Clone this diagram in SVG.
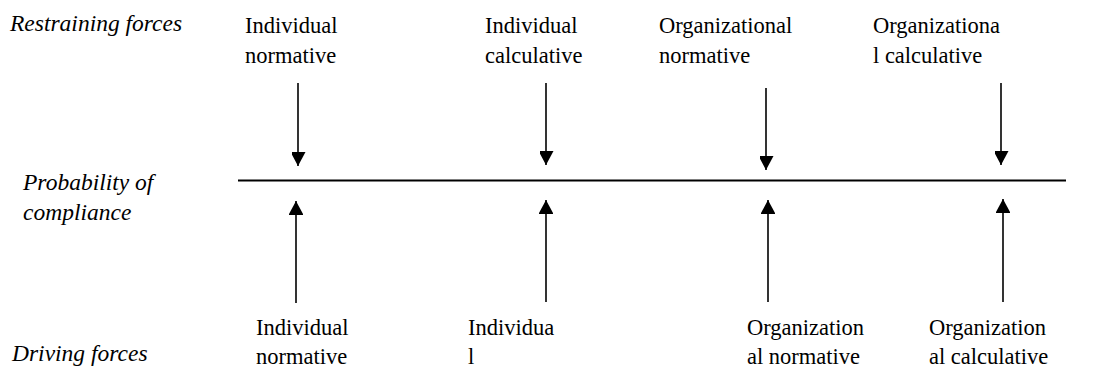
<svg xmlns="http://www.w3.org/2000/svg" width="1104" height="376" viewBox="0 0 1104 376">
  <style>
    .cap { font-family: 'Liberation Serif', 'Times New Roman', 'DejaVu Serif', serif; font-size: 23.5px; font-style: italic; fill: #000; }
    .lbl { font-family: 'Liberation Serif', 'Times New Roman', 'DejaVu Serif', serif; font-size: 22.5px; fill: #000; }
    .shaft { stroke: #000; stroke-width: 1.6; fill: none; }
    .axis { stroke: #000; stroke-width: 2.2; fill: none; }
  </style>
  <defs>
    <marker id="head" viewBox="0 0 15 14" refX="14" refY="7.5" markerWidth="15" markerHeight="14" markerUnits="userSpaceOnUse" orient="auto">
      <path d="M0,0 L14,7.5 L0,15 Z" fill="#000"/>
    </marker>
  </defs>

  <rect width="1104" height="376" fill="#fff"/>

  <!-- row captions -->
  <g id="caption-restraining">
    <text class="cap" x="10" y="31">Restraining forces</text>
  </g>
  <g id="caption-probability">
    <text class="cap" x="23" y="190">Probability of</text>
    <text class="cap" x="23" y="220">compliance</text>
  </g>
  <g id="caption-driving">
    <text class="cap" x="12" y="361">Driving forces</text>
  </g>

  <!-- restraining forces (top) -->
  <g id="r-ind-norm">
    <text class="lbl" x="245" y="33">Individual</text>
    <text class="lbl" x="245" y="63">normative</text>
  </g>
  <g id="r-ind-calc">
    <text class="lbl" x="485" y="33">Individual</text>
    <text class="lbl" x="485" y="63">calculative</text>
  </g>
  <g id="r-org-norm">
    <text class="lbl" x="659" y="33">Organizational</text>
    <text class="lbl" x="659" y="63">normative</text>
  </g>
  <g id="r-org-calc">
    <text class="lbl" x="873" y="33">Organizationa</text>
    <text class="lbl" x="873" y="63">l calculative</text>
  </g>

  <!-- driving forces (bottom) -->
  <g id="d-ind-norm">
    <text class="lbl" x="256" y="335">Individual</text>
    <text class="lbl" x="256" y="364">normative</text>
  </g>
  <g id="d-ind-calc">
    <text class="lbl" x="468" y="335">Individua</text>
    <text class="lbl" x="468" y="364">l</text>
  </g>
  <g id="d-org-norm">
    <text class="lbl" x="747" y="335">Organization</text>
    <text class="lbl" x="747" y="364">al normative</text>
  </g>
  <g id="d-org-calc">
    <text class="lbl" x="929" y="335">Organization</text>
    <text class="lbl" x="929" y="364">al calculative</text>
  </g>

  <!-- compliance axis and force arrows -->
  <g id="connectors">
    <line class="axis" x1="238" y1="180.5" x2="1066" y2="180.5"/>

    <line class="shaft" x1="298" y1="83" x2="298" y2="166" marker-end="url(#head)"/>
    <line class="shaft" x1="546" y1="83" x2="546" y2="165" marker-end="url(#head)"/>
    <line class="shaft" x1="766" y1="88" x2="766" y2="170" marker-end="url(#head)"/>
    <line class="shaft" x1="1001" y1="83" x2="1001" y2="165" marker-end="url(#head)"/>

    <line class="shaft" x1="296" y1="303" x2="296" y2="201" marker-end="url(#head)"/>
    <line class="shaft" x1="546" y1="302" x2="546" y2="200" marker-end="url(#head)"/>
    <line class="shaft" x1="768" y1="302" x2="768" y2="200" marker-end="url(#head)"/>
    <line class="shaft" x1="1003" y1="302" x2="1003" y2="199" marker-end="url(#head)"/>
  </g>
</svg>
